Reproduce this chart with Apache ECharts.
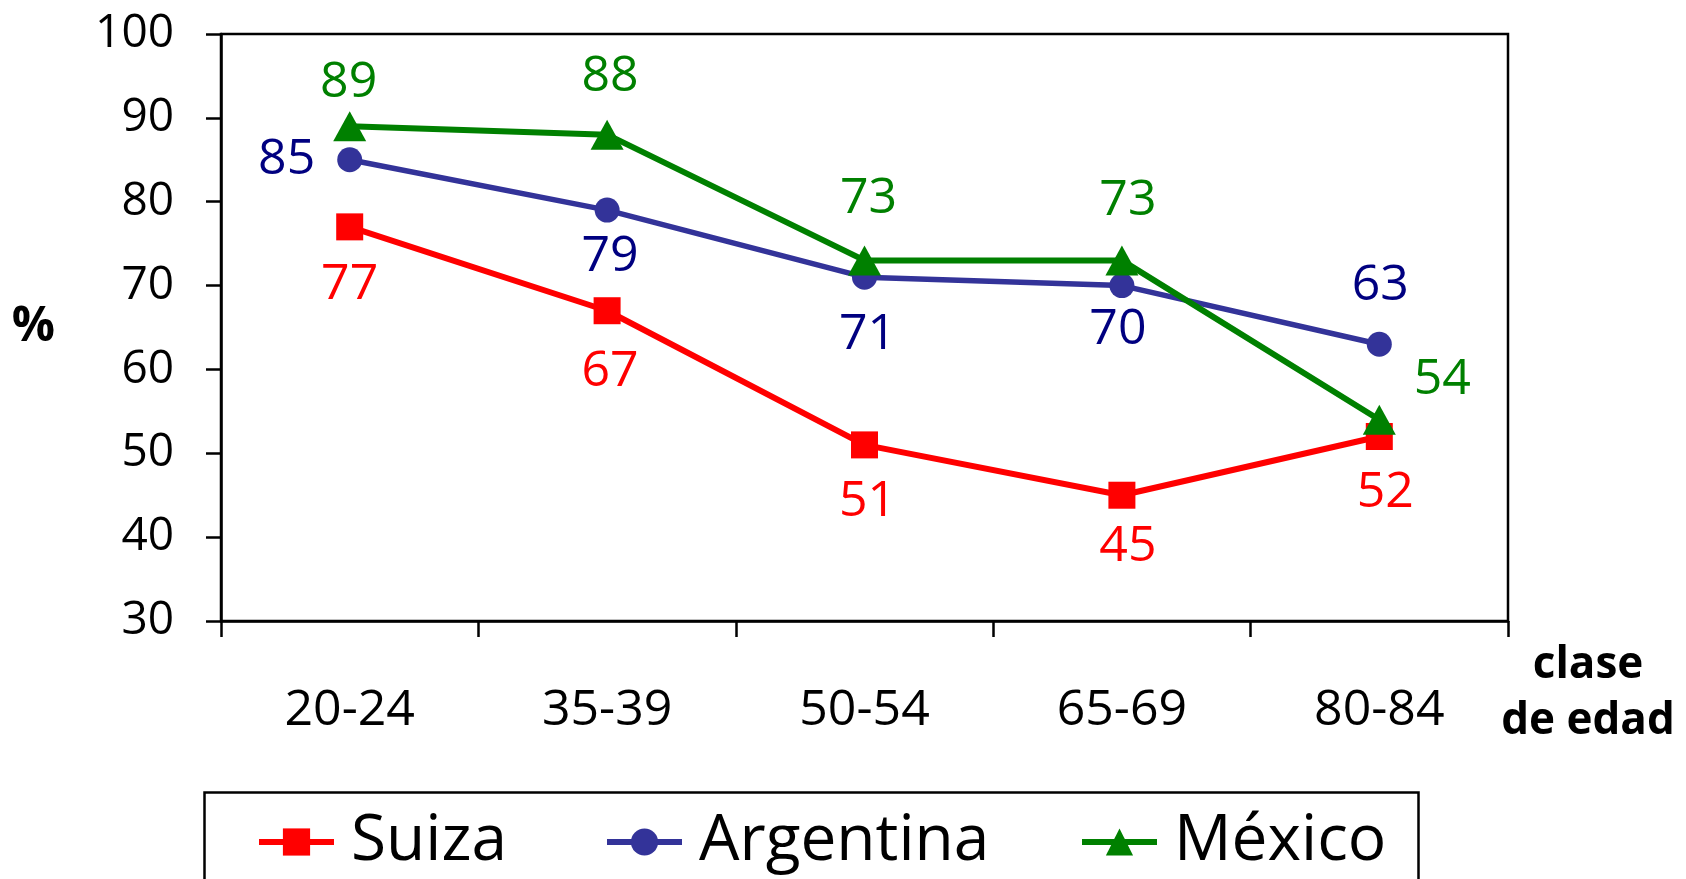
<!DOCTYPE html>
<html>
<head>
<meta charset="utf-8">
<script src="https://cdn.jsdelivr.net/npm/echarts@6/dist/echarts.min.js"></script>
<style>
html,body{margin:0;padding:0;background:#fff;}
#chart{width:1686px;height:879px;}
</style>
</head>
<body>
<div id="chart"></div>
<script>
// ---- data ----
const categories = ['20-24', '35-39', '50-54', '65-69', '80-84'];
const suiza = [77, 67, 51, 45, 52];
const argentina = [85, 79, 71, 70, 63];
const mexico = [89, 88, 73, 73, 54];
const seriesNames = ['Suiza', 'Argentina', 'México'];
const yTicks = { min: 30, max: 100, interval: 10 };
const yName = '%';
const xName = 'clase\nde edad';

// ---- label placement (style only) ----
const offSuiza = [[0, 58], [3, 61], [3, 57], [6, 52], [6, 56]];
const offArg = [[-63, 0], [3, 47], [3, 58], [-4, 44], [1, -59]];
const offMex = [[-1, -43], [3, -58], [4, -62], [6, -60], [63, -40]];

const FONT = '"Comic Sans MS", "Open Sans", sans-serif';

function withLabels(values, offsets, color) {
  return values.map((v, i) => ({
    value: v,
    label: { offset: offsets[i], color: color }
  }));
}

const chart = echarts.init(document.getElementById('chart'), null, { renderer: 'canvas' });

function mkSeries(name, values, offsets, lineColor, labelColor, symbol, size, lw) {
  return {
    name: name,
    type: 'line',
    data: withLabels(values, offsets, labelColor),
    symbol: symbol,
    symbolSize: size,
    showAllSymbol: true,
    lineStyle: { color: lineColor, width: lw },
    itemStyle: { color: lineColor },
    label: {
      show: true,
      position: 'inside',
      fontSize: 50,
      fontFamily: FONT,
      color: labelColor,
      align: 'center',
      verticalAlign: 'middle'
    },
    emphasis: { disabled: true },
    animation: false
  };
}

function mkLegend(name, left, color) {
  return {
    data: [name],
    left: left,
    top: 810,
    padding: 0,
    itemWidth: 75,
    itemHeight: 34,
    itemGap: 20,
    lineStyle: { width: 6, color: color },
    textStyle: { fontSize: 64, fontFamily: FONT, color: '#000', padding: [0, 0, 0, 12] },
    selectedMode: false
  };
}

const option = {
  backgroundColor: '#fff',
  animation: false,
  grid: {
    left: 221, top: 34, right: 178, bottom: 258,
    show: true, borderColor: '#000', borderWidth: 2.5, backgroundColor: 'transparent'
  },
  xAxis: {
    type: 'category',
    data: categories,
    boundaryGap: true,
    axisLine: { lineStyle: { color: '#000', width: 2.5 } },
    axisTick: { show: true, inside: false, length: 16, alignWithLabel: false, lineStyle: { color: '#000', width: 2.5 } },
    axisLabel: { fontSize: 50, fontFamily: FONT, color: '#000', margin: 65 },
    splitLine: { show: false },
    name: xName,
    nameLocation: 'end',
    nameGap: 80,
    nameTextStyle: {
      fontSize: 44, fontWeight: 'bold', fontFamily: FONT, color: '#000',
      align: 'center', verticalAlign: 'top', lineHeight: 56, padding: [16, 0, 0, 0]
    }
  },
  yAxis: {
    type: 'value',
    min: yTicks.min, max: yTicks.max, interval: yTicks.interval,
    axisLine: { show: true, lineStyle: { color: '#000', width: 2.5 } },
    axisTick: { show: true, inside: false, length: 15, lineStyle: { color: '#000', width: 2.5 } },
    axisLabel: { fontSize: 46, fontFamily: FONT, color: '#000', margin: 47 },
    splitLine: { show: false },
    name: yName,
    nameLocation: 'middle',
    nameRotate: 0,
    nameGap: 166,
    nameTextStyle: { fontSize: 48, fontWeight: 'bold', fontFamily: FONT, color: '#000' }
  },
  legend: [
    mkLegend(seriesNames[0], 256, '#FF0000'),
    mkLegend(seriesNames[1], 604, '#333399'),
    mkLegend(seriesNames[2], 1079, '#008000')
  ],
  graphic: [{
    type: 'rect',
    left: 202, top: 790,
    shape: { width: 1214, height: 200 },
    style: { fill: 'none', stroke: '#000', lineWidth: 2.5 },
    silent: true
  }],
  series: [
    mkSeries(seriesNames[0], suiza, offSuiza, '#FF0000', '#FF0000', 'rect', 27, 6),
    mkSeries(seriesNames[1], argentina, offArg, '#333399', '#000080', 'circle', 25, 5.5),
    mkSeries(seriesNames[2], mexico, offMex, '#008000', '#008000', 'triangle', [33, 30], 6)
  ]
};

chart.setOption(option);
</script>
</body>
</html>
